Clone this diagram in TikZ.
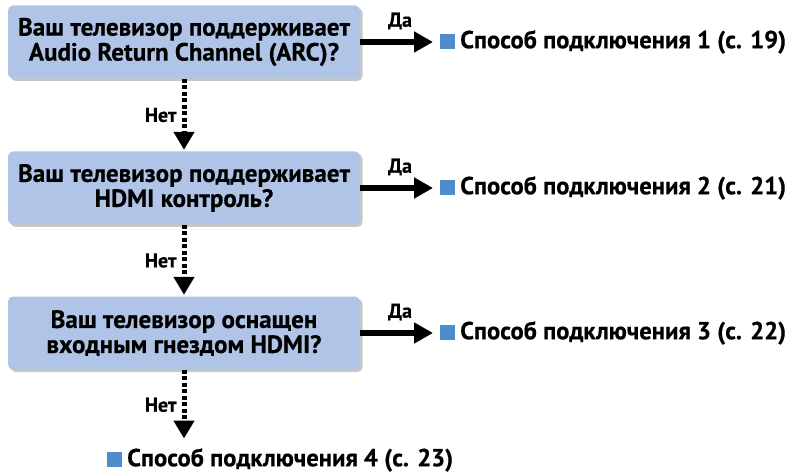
\documentclass[tikz,border=0pt]{standalone}
\usepackage{fontspec}
\setmainfont{PT Sans}[BoldFeatures={FakeBold=0.5}]
\usetikzlibrary{positioning, arrows.meta, shadows}
\definecolor{boxblue}{RGB}{175,196,230}
\definecolor{markblue}{RGB}{79,140,205}

\begin{document}
\begin{tikzpicture}[
		x=1pt, y=-1pt,
		font=\bfseries\fontsize{25}{25}\selectfont,
		% Style for the question boxes
		question/.style={
			fill=boxblue, rounded corners=5pt, align=center,
			minimum width=352pt, minimum height=73pt, inner sep=2pt,
			drop shadow={shadow xshift=2.5pt, shadow yshift=-2.5pt, fill=black!22, opacity=1}
		},
		% Style for the answers
		answer/.style={anchor=west, inner sep=0pt, font=\bfseries\fontsize{24.6}{24.6}\selectfont},
		% Arrows
		yes/.style={line width=5.5pt, -{Triangle[length=19pt, width=20pt]}, shorten >=7pt},
		no/.style={line width=5pt, dash pattern=on 4pt off 2.5pt, -{Triangle[length=18pt, width=20pt]}, shorten >=1.5pt},
		% Labels on the arrows
		tag/.style={font=\bfseries\fontsize{20}{20}\selectfont, inner sep=0pt}
		]
		\useasboundingbox (0,0) rectangle (790,473);
		
		% Questions
		\node[question] (q1) at (184, 42) {Ваш телевизор поддерживает\\Audio Return Channel (ARC)?};
		\node[question] (q2) at (184, 188) {Ваш телевизор поддерживает\\HDMI контроль?};
		\node[question] (q3) at (184, 333) {Ваш телевизор оснащен\\входным гнездом HDMI?};
		
		% Answers
		\node[answer] (a1) at (440, 42) {\textcolor{markblue}{\rule[-1pt]{15pt}{15pt}}\hspace{5pt}Способ подключения 1 (с. 19)};
		\node[answer] (a2) at (440, 188) {\textcolor{markblue}{\rule[-1pt]{15pt}{15pt}}\hspace{5pt}Способ подключения 2 (с. 21)};
		\node[answer] (a3) at (440, 333) {\textcolor{markblue}{\rule[-1pt]{15pt}{15pt}}\hspace{5pt}Способ подключения 3 (с. 22)};
		\node[answer] (a4) at (107, 460) {\textcolor{markblue}{\rule[-1pt]{15pt}{15pt}}\hspace{5pt}Способ подключения 4 (с. 23)};
		
		% Yes arrows
		\draw[yes] (q1.east) -- (a1.west) node[tag, pos=0.5, above=10pt] (y1) {Да};
		\draw[yes] (q2.east) -- (a2.west) node[tag, pos=0.5, above=10pt] (y2) {Да};
		\draw[yes] (q3.east) -- (a3.west) node[tag, pos=0.5, above=10pt] (y3) {Да};
		
		% No arrows
		\coordinate (e4) at (184, 440);
		\draw[no] (q1.south) -- (q2.north) node[tag, midway, left=5pt] (n1) {Нет};
		\draw[no] (q2.south) -- (q3.north) node[tag, midway, left=5pt] (n2) {Нет};
		\draw[no] (q3.south) -- (e4) node[tag, midway, left=5pt] (n3) {Нет};
	\end{tikzpicture}
\end{document}
